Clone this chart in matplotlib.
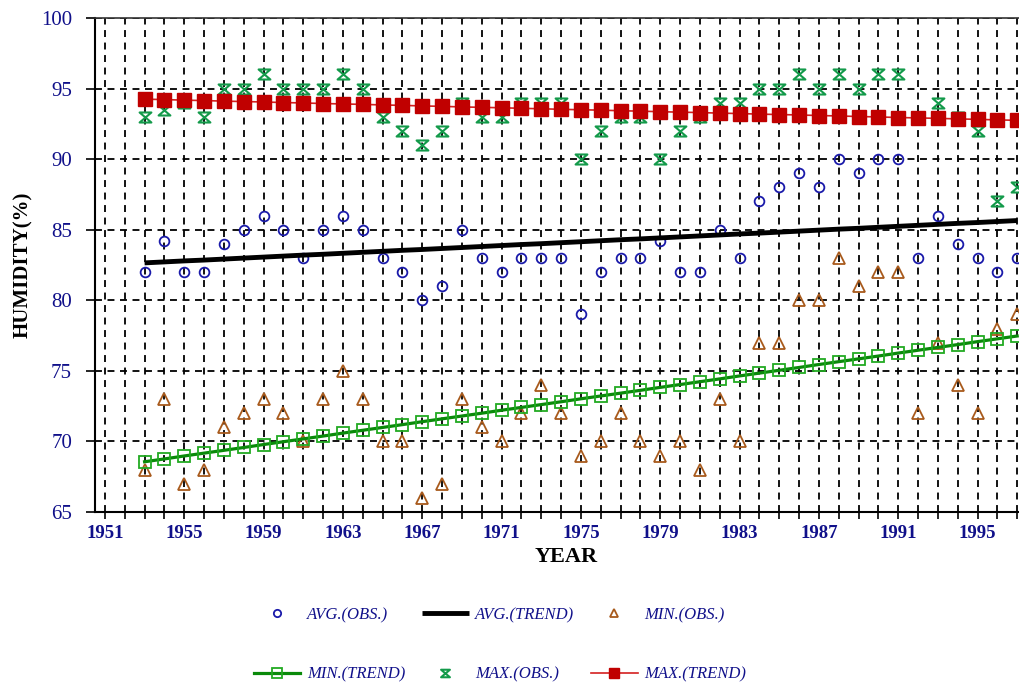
import matplotlib
matplotlib.use("Agg")
import matplotlib.pyplot as plt
from matplotlib.path import Path

years = list(range(1953, 1998))

avg_obs = [82, 84.2, 82, 82, 84, 85, 86, 85, 83, 85, 86, 85, 83, 82, 80, 81, 85, 83, 82, 83,
           83, 83, 79, 82, 83, 83, 84.2, 82, 82, 85, 83, 87, 88, 89, 88, 90, 89, 90, 90, 83,
           86, 84, 83, 82, 83]
min_obs = [68, 73, 67, 68, 71, 72, 73, 72, 70, 73, 75, 73, 70, 70, 66, 67, 73, 71, 70, 72,
           74, 72, 69, 70, 72, 70, 69, 70, 68, 73, 70, 77, 77, 80, 80, 83, 81, 82, 82, 72,
           77, 74, 72, 78, 79]
max_obs = [93, 93.5, 94, 93, 95, 95, 96, 95, 95, 95, 96, 95, 93, 92, 91, 92, 94, 93, 93, 94,
           94, 94, 90, 92, 93, 93, 90, 92, 93, 94, 94, 95, 95, 96, 95, 96, 95, 96, 96, 93,
           94, 93, 92, 87, 88]
avg_trend = [82.65, 82.72, 82.79, 82.85, 82.92, 82.99, 83.06, 83.13, 83.20, 83.26, 83.33, 83.40,
             83.47, 83.54, 83.60, 83.67, 83.74, 83.81, 83.88, 83.95, 84.01, 84.08, 84.15, 84.22,
             84.29, 84.35, 84.42, 84.49, 84.56, 84.63, 84.70, 84.76, 84.83, 84.90, 84.97, 85.04,
             85.10, 85.17, 85.24, 85.31, 85.38, 85.45, 85.51, 85.58, 85.65]
max_trend = [94.25, 94.22, 94.18, 94.15, 94.11, 94.08, 94.05, 94.01, 93.98, 93.94, 93.91, 93.88,
             93.84, 93.81, 93.77, 93.74, 93.70, 93.67, 93.64, 93.60, 93.57, 93.53, 93.50, 93.47,
             93.43, 93.40, 93.36, 93.33, 93.30, 93.26, 93.23, 93.19, 93.16, 93.13, 93.09, 93.06,
             93.02, 92.99, 92.95, 92.92, 92.89, 92.85, 92.82, 92.78, 92.75]
min_trend = [68.56, 68.76, 68.97, 69.17, 69.37, 69.57, 69.78, 69.98, 70.18, 70.38, 70.59, 70.79,
             70.99, 71.19, 71.40, 71.60, 71.80, 72.00, 72.21, 72.41, 72.61, 72.81, 73.02, 73.22,
             73.42, 73.62, 73.83, 74.03, 74.23, 74.43, 74.64, 74.84, 75.04, 75.24, 75.45, 75.65,
             75.85, 76.05, 76.26, 76.46, 76.66, 76.86, 77.07, 77.27, 77.47]

x_ticks = list(range(1951, 1998))
x_labels = [str(y) if (y - 1951) % 4 == 0 else "" for y in x_ticks]
y_ticks = [65, 70, 75, 80, 85, 90, 95, 100]

plt.rcParams['font.family'] = ['Liberation Serif', 'DejaVu Serif']
plt.rcParams['lines.scale_dashes'] = False

W, H = 1019, 686
fig = plt.figure(figsize=(W / 100, H / 100), dpi=100)
left, right, top, bottom = 95, 1037, 18, 512
ax = fig.add_axes([left / W, 1 - bottom / H, (right - left) / W, (bottom - top) / H])

navy = '#10108a'
hourglass = Path([(-1, 0.85), (1, 0.85), (-1, -0.85), (1, -0.85), (-1, 0.85)],
                 [Path.MOVETO, Path.LINETO, Path.LINETO, Path.LINETO, Path.CLOSEPOLY])

ax.plot(years, avg_obs, ls='none', marker='o', ms=7, mfc='none', mec='#1a1aaa', mew=1.3,
        label='AVG.(OBS.)', zorder=3)
ax.plot(years, min_obs, ls='none', marker='^', ms=8.5, mfc='none', mec='#a85a1c', mew=1.3,
        label='MIN.(OBS.)', zorder=3)
ax.plot(years, max_obs, ls='none', marker=hourglass, ms=8.5, mfc='none', mec='#139a4a', mew=1.5,
        label='MAX.(OBS.)', zorder=3)
ax.plot(years, avg_trend, color='black', lw=3.5, label='AVG.(TREND)', zorder=4,
        solid_capstyle='butt')
ax.plot(years, min_trend, color='#0a8a0a', lw=2.3, marker='s', ms=9, mfc='none',
        mec='#22aa22', mew=1.3, label='MIN.(TREND)', zorder=4)
ax.plot(years, max_trend, color='#d42020', lw=1.2, marker='s', ms=9.5, mfc='#c00000',
        mec='#c00000', label='MAX.(TREND)', zorder=5)

ax.set_xlim(1950.5, 1998)
ax.set_ylim(65, 100)
ax.set_xticks(x_ticks)
ax.set_xticklabels(x_labels, fontsize=13.5, fontweight='bold', color=navy)
ax.set_yticks(y_ticks)
ax.set_yticklabels([str(v) for v in y_ticks], fontsize=15, color=navy)
ax.tick_params(axis='y', direction='out', length=6.5, width=1.2, pad=10)
ax.tick_params(axis='x', direction='out', length=5, width=1.2, pad=4)

ax.grid(True, color='black', ls=(0, (5, 4)), lw=1.3)
ax.set_axisbelow(True)
for s in ['left', 'bottom']:
    ax.spines[s].set_linewidth(1.5)
ax.spines['top'].set_linewidth(1.2)
ax.spines['top'].set_color('#333333')

ax.set_xlabel('YEAR', fontsize=16, fontweight='bold', labelpad=4)
ax.set_ylabel('HUMIDITY(%)', fontsize=15, fontweight='bold', labelpad=6)

handles, labels = ax.get_legend_handles_labels()
order = ['AVG.(OBS.)', 'MIN.(TREND)', 'AVG.(TREND)', 'MAX.(OBS.)', 'MIN.(OBS.)', 'MAX.(TREND)']
hmap = dict(zip(labels, handles))
leg = fig.legend([hmap[k] for k in order], order, ncol=3, loc='center',
                 bbox_to_anchor=(500 / W, 1 - 645 / H), frameon=False,
                 prop={'style': 'italic', 'size': 12}, handlelength=2.8,
                 handletextpad=0.4, columnspacing=1.0, labelspacing=2.6,
                 markerscale=0.75)
for t in leg.get_texts():
    t.set_color(navy)

fig.savefig('out.png', dpi=100)
